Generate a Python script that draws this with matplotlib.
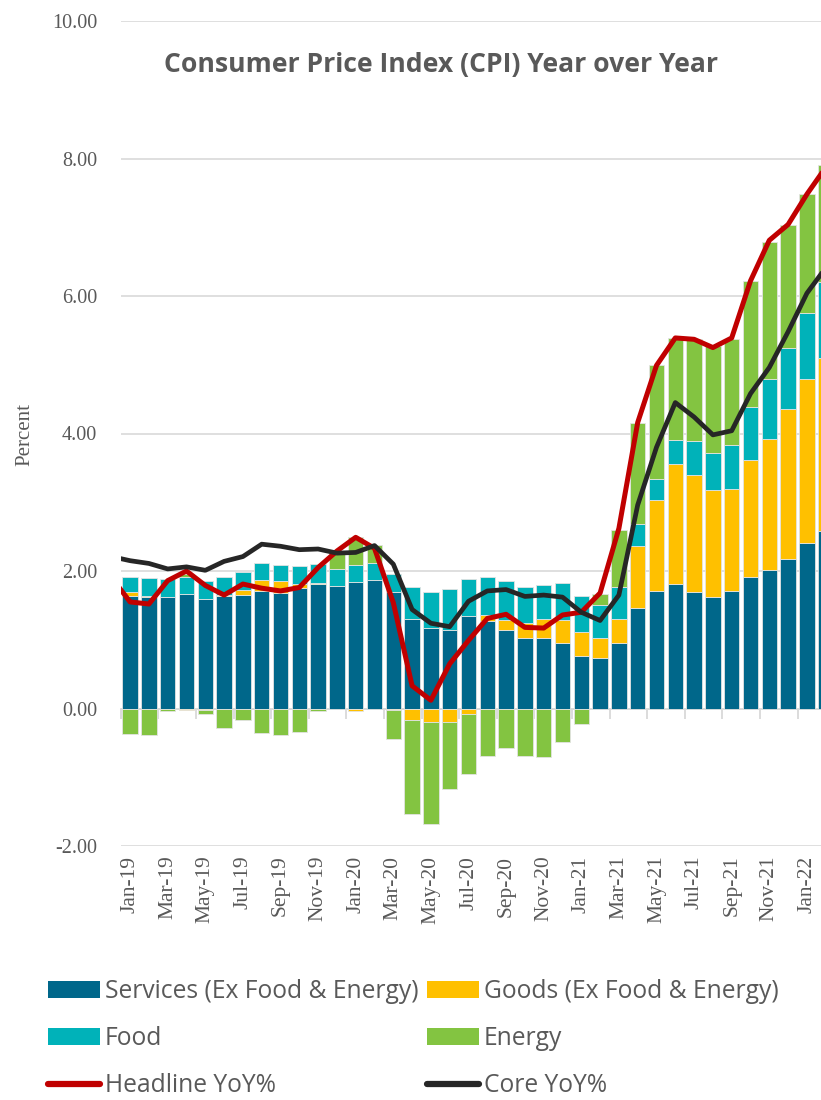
import numpy as np
import matplotlib
matplotlib.use("Agg")
import matplotlib.pyplot as plt
from matplotlib.ticker import FormatStrFormatter
from matplotlib.patches import Patch
from matplotlib.lines import Line2D
from matplotlib.font_manager import FontProperties

# ---------------- data ----------------
months = ["Jan-19", "Feb-19", "Mar-19", "Apr-19", "May-19", "Jun-19", "Jul-19", "Aug-19",
          "Sep-19", "Oct-19", "Nov-19", "Dec-19", "Jan-20", "Feb-20", "Mar-20", "Apr-20",
          "May-20", "Jun-20", "Jul-20", "Aug-20", "Sep-20", "Oct-20", "Nov-20", "Dec-20",
          "Jan-21", "Feb-21", "Mar-21", "Apr-21", "May-21", "Jun-21", "Jul-21", "Aug-21",
          "Sep-21", "Oct-21", "Nov-21", "Dec-21", "Jan-22", "Feb-22"]

services = [1.63, 1.62, 1.62, 1.66, 1.59, 1.63, 1.65, 1.71, 1.68, 1.75, 1.81, 1.78,
            1.84, 1.87, 1.69, 1.30, 1.17, 1.14, 1.34, 1.28, 1.14, 1.03, 1.02, 0.95,
            0.77, 0.74, 0.96, 1.46, 1.71, 1.81, 1.70, 1.62, 1.71, 1.91, 2.02, 2.18,
            2.41, 2.58]
goods = [0.07, 0.02, 0.00, -0.02, -0.02, 0.02, 0.08, 0.16, 0.17, 0.06, 0.02, 0.00,
         -0.04, 0.00, -0.02, -0.16, -0.19, -0.20, -0.08, 0.08, 0.15, 0.22, 0.28, 0.34,
         0.34, 0.28, 0.34, 0.90, 1.32, 1.75, 1.70, 1.56, 1.48, 1.71, 1.90, 2.18,
         2.38, 2.52]
food = [0.21, 0.26, 0.27, 0.26, 0.27, 0.27, 0.25, 0.24, 0.24, 0.27, 0.27, 0.25,
        0.25, 0.24, 0.26, 0.47, 0.53, 0.60, 0.54, 0.55, 0.57, 0.52, 0.49, 0.54,
        0.52, 0.49, 0.47, 0.33, 0.31, 0.34, 0.49, 0.53, 0.65, 0.76, 0.87, 0.88,
        0.97, 1.10]
energy = [-0.37, -0.39, -0.03, 0.04, -0.06, -0.28, -0.16, -0.35, -0.38, -0.34, -0.04, 0.21,
          0.41, 0.27, -0.43, -1.38, -1.49, -0.97, -0.87, -0.69, -0.58, -0.69, -0.71, -0.48,
          -0.23, 0.15, 0.82, 1.46, 1.66, 1.49, 1.49, 1.57, 1.54, 1.84, 2.00, 1.80,
          1.72, 1.71]

# line series start one month earlier (Dec-18)
line_months = ["Dec-18"] + months
headline = [1.91, 1.55, 1.52, 1.86, 2.00, 1.79, 1.65, 1.81, 1.75, 1.71, 1.76, 2.05, 2.29,
            2.49, 2.33, 1.54, 0.33, 0.12, 0.65, 0.99, 1.31, 1.37, 1.18, 1.17, 1.36,
            1.40, 1.68, 2.62, 4.16, 4.99, 5.39, 5.37, 5.25, 5.39, 6.22, 6.81, 7.04,
            7.48, 7.87]
core = [2.21, 2.15, 2.11, 2.03, 2.06, 2.01, 2.14, 2.21, 2.39, 2.36, 2.31, 2.32, 2.26,
        2.27, 2.37, 2.10, 1.44, 1.24, 1.19, 1.56, 1.71, 1.73, 1.63, 1.65, 1.62,
        1.40, 1.28, 1.65, 2.96, 3.80, 4.45, 4.24, 3.98, 4.04, 4.58, 4.96, 5.48,
        6.04, 6.41]

series_names = ["Services (Ex Food & Energy)", "Goods (Ex Food & Energy)", "Food", "Energy"]
line_names = ["Headline YoY%", "Core YoY%"]

# ---------------- style ----------------
C_SERV = "#00678A"
C_GOODS = "#FFC000"
C_FOOD = "#00B2B9"
C_ENERGY = "#83C441"
C_HEAD = "#C00000"
C_CORE = "#262626"
GRID = "#d9d9d9"
TXT = "#595959"
SERIF = ["Liberation Serif", "DejaVu Serif"]
SANS = ["Open Sans", "DejaVu Sans"]

W, H = 821, 1100
fig = plt.figure(figsize=(W / 100, H / 100), dpi=100)
pitch = 18.8
ax = fig.add_axes([120.7 / W, 1 - 846 / H, 38 * pitch / W, 825 / H])

x = np.arange(len(months))
pos_base = np.zeros(len(months))
neg_base = np.zeros(len(months))
for vals, col, name in zip([services, goods, food, energy],
                           [C_SERV, C_GOODS, C_FOOD, C_ENERGY], series_names):
    v = np.asarray(vals, dtype=float)
    bottom = np.where(v >= 0, pos_base, neg_base)
    ax.bar(x, v, bottom=bottom, width=0.82, color=col, edgecolor="#e3e3e3",
           linewidth=0.6, label=name, zorder=2)
    pos_base += np.where(v >= 0, v, 0)
    neg_base += np.where(v < 0, v, 0)

xl = np.arange(-1, len(months))
ax.plot(xl, headline, color=C_HEAD, lw=3.6, zorder=4,
        solid_joinstyle="round", solid_capstyle="round")
ax.plot(xl, core, color=C_CORE, lw=3.4, zorder=5,
        solid_joinstyle="round", solid_capstyle="round")

ax.set_xlim(-0.5, 37.5)
ax.set_ylim(-2, 10)
ax.set_yticks(np.arange(-2, 11, 2))
ax.yaxis.set_major_formatter(FormatStrFormatter("%.2f"))
ax.grid(axis="y", color=GRID, lw=1.2)
ax.set_axisbelow(True)
for s in ax.spines.values():
    s.set_visible(False)
ax.tick_params(axis="y", length=0, pad=17, labelsize=14.5, labelcolor=TXT)
for t in ax.get_yticklabels():
    t.set_fontfamily(SERIF)

ax.set_xticks(x[::2])
ax.set_xticklabels(months[::2], rotation=90, fontsize=15.5, color=TXT,
                   family=SERIF)
ax.tick_params(axis="x", length=0, pad=7)

# zero axis with tick marks between category pairs
sec = ax.secondary_xaxis(2 / 12)
sec.set_xticks(np.arange(-0.5, 38, 2))
sec.tick_params(axis="x", length=7, width=1.3, color=GRID,
                labelbottom=False, labeltop=False)
for s in sec.spines.values():
    s.set_color(GRID)
    s.set_linewidth(1.3)

fig.text(441 / W, 1 - 65 / H, "Consumer Price Index (CPI) Year over Year",
         ha="center", va="center", fontsize=19.1, fontweight="bold",
         color=TXT, family=SANS)
fig.text(25 / W, 1 - 434 / H, "Percent", rotation=90, ha="center", va="center",
         fontsize=15, color=TXT, family=SERIF)

handles = [Patch(facecolor=C_SERV), Patch(facecolor=C_FOOD),
           Line2D([], [], color=C_HEAD, lw=4.5, solid_capstyle="round"),
           Patch(facecolor=C_GOODS), Patch(facecolor=C_ENERGY),
           Line2D([], [], color=C_CORE, lw=4.5, solid_capstyle="round")]
labels = [series_names[0], series_names[2], line_names[0],
          series_names[1], series_names[3], line_names[1]]
fsize = 17.7
fp = FontProperties(family=SANS, size=fsize)
fs = fsize * 100 / 72
fig.legend(handles, labels, ncol=2, loc="upper left",
           bbox_to_anchor=(48 / W, 1 - 979 / H), frameon=False, prop=fp,
           handlelength=52 / fs, handleheight=16 / fs, handletextpad=5 / fs,
           columnspacing=8 / fs, labelspacing=0.9, borderpad=0,
           borderaxespad=0, labelcolor=TXT)

fig.savefig("out.png", dpi=100)
